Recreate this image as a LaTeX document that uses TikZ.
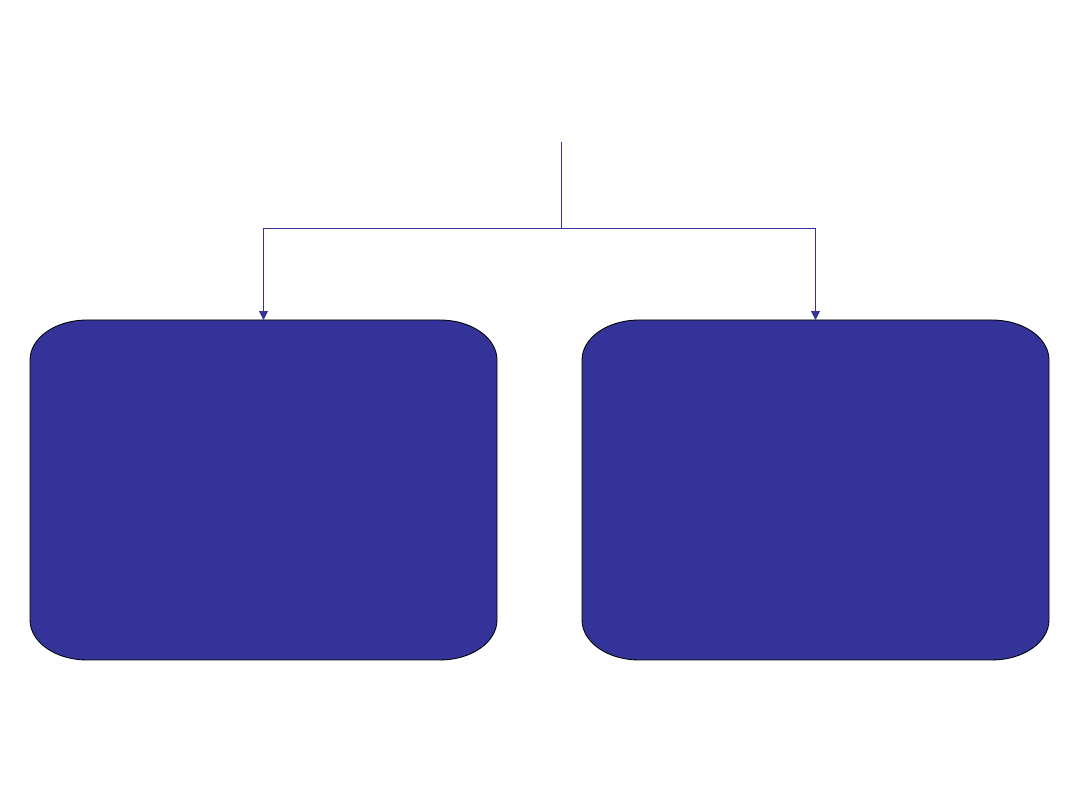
\documentclass[tikz,border=0pt]{standalone}
\usetikzlibrary{arrows.meta}
\definecolor{boxblue}{HTML}{333399}
\tikzset{
  link/.style={draw=boxblue, line width=0.7pt},
  box/.style={fill=boxblue, draw=black, line width=0.6pt}
}
\begin{document}
\begin{tikzpicture}[x=0.025cm,y=0.025cm]
\useasboundingbox (0,0) rectangle (1080,810);
\foreach \x/\name in {30/left,582/right}{
  \draw[box] (\x+57,490) -- (\x+410,490)
    arc [x radius=57, y radius=40, start angle=90, end angle=0] -- (\x+467,190)
    arc [x radius=57, y radius=40, start angle=0, end angle=-90] -- (\x+57,150)
    arc [x radius=57, y radius=40, start angle=-90, end angle=-180] -- (\x,450)
    arc [x radius=57, y radius=40, start angle=180, end angle=90] -- cycle;
  \coordinate (\name) at (\x+233.5,490);
}
\coordinate (root) at (561,668);
\coordinate (fork) at (561,582);
\draw[link] (root) -- (fork);
\draw[link,-{Triangle[width=0.22cm,length=0.22cm]}] (fork) -| (left);
\draw[link,-{Triangle[width=0.22cm,length=0.22cm]}] (fork) -| (right);
\end{tikzpicture}
\end{document}
